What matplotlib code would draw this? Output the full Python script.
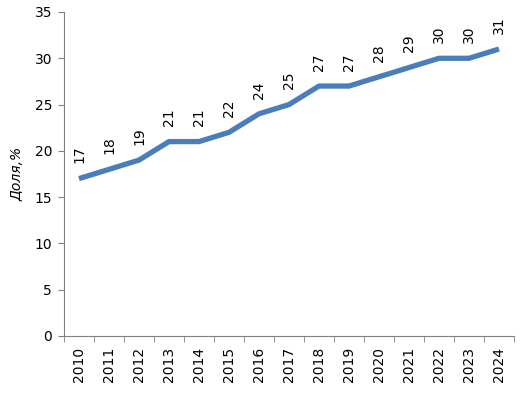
import matplotlib.pyplot as plt
import numpy as np

years = ['2010', '2011', '2012', '2013', '2014', '2015', '2016', '2017',
         '2018', '2019', '2020', '2021', '2022', '2023', '2024']
share = [17, 18, 19, 21, 21, 22, 24, 25, 27, 27, 28, 29, 30, 30, 31]

plt.rcParams.update({'font.size': 10, 'font.family': 'DejaVu Sans'})

fig = plt.figure(figsize=(5.21, 3.97), dpi=100)
ax = fig.add_axes([0.1228, 0.1537, 0.8638, 0.8161])

x = np.arange(len(years))
ax.plot(x, share, color='#4a7ebb', linewidth=3.8, solid_capstyle='butt')

# Data labels above the points, rotated
for xi, v in zip(x, share):
    ax.annotate(str(v), (xi, v), xytext=(0, 11), textcoords='offset points',
                rotation=90, ha='center', va='bottom', fontsize=10)

ax.set_xlim(-0.5, len(years) - 0.5)
ax.set_ylim(0, 35)
ax.set_yticks(range(0, 36, 5))

# Category ticks between years, labels in the middle
ax.set_xticks(x)
ax.set_xticklabels(years, rotation=90)
ax.set_xticks(np.arange(-0.5, len(years)), minor=True)
ax.tick_params(axis='x', which='major', length=0, pad=8)
ax.tick_params(axis='x', which='minor', length=4.5, color='#808080')
ax.tick_params(axis='y', length=4.5, color='#808080', pad=4)

for side in ['top', 'right']:
    ax.spines[side].set_visible(False)
for side in ['left', 'bottom']:
    ax.spines[side].set_color('#808080')

ax.set_ylabel('Доля,%', style='italic', fontsize=10, labelpad=7)

plt.savefig('out.png', dpi=100)
